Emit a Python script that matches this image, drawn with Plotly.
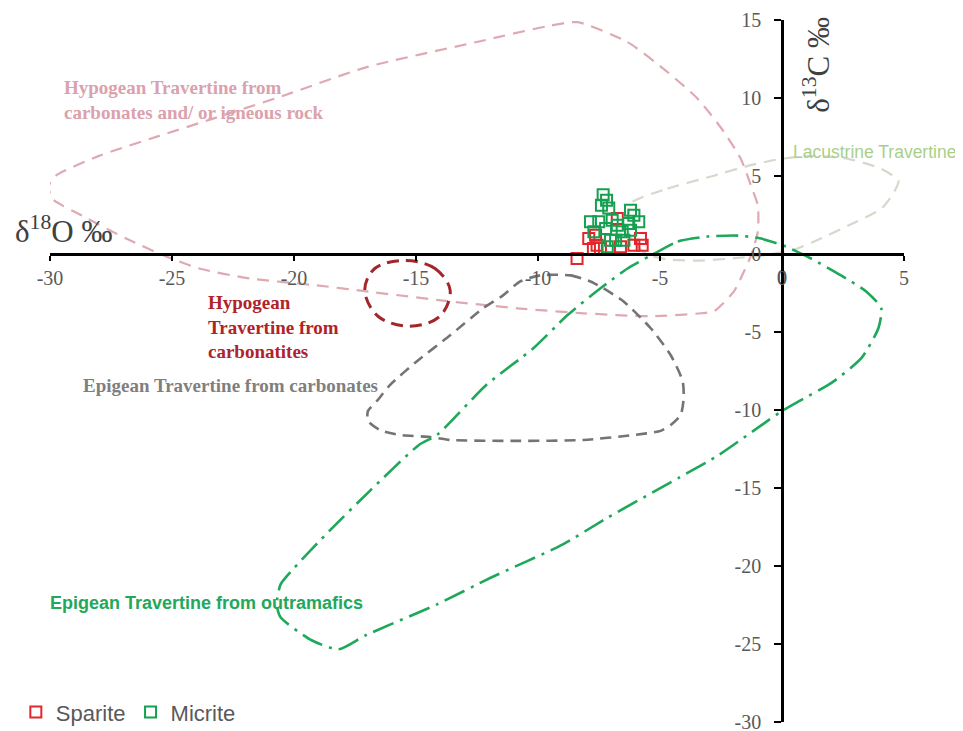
import plotly.graph_objects as go

# ---- data: sample points (delta18O, delta13C) ----
sparite_x = [-8.40, -7.64, -7.58, -7.44, -7.92, -6.75, -6.62, -5.80, -5.73, -6.07, -7.73]
sparite_y = [-0.29, 1.20, 0.56, 0.35, 0.99, 2.27, 0.46, 0.99, 0.56, 0.56, 0.35]

micrite_x = [-7.33, -7.19, -7.40, -7.10, -7.85, -7.51, -7.71, -7.23, -6.96, -6.75,
             -6.55, -6.21, -6.07, -5.87, -6.28, -6.48, -6.82, -7.16, -7.03, -6.21]
micrite_y = [3.80, 3.44, 3.12, 2.95, 2.06, 2.06, 1.42, 1.63, 2.16, 1.84,
             1.42, 2.80, 2.48, 2.06, 1.95, 0.88, 0.88, 0.46, 0.88, 1.52]

# ---- field outlines (vertices) ----
hypo_igneous_x = [-8.38, -6.33, -4.69, -3.45, -2.38, -1.69, -1.27, -0.99, -0.99, -1.27, -1.56, -1.97,
                  -2.79, -3.33, -5.38, -8.14, -10.85, -13.60, -17.02, -19.07, -21.82, -23.88, -25.24,
                  -26.88, -28.69, -29.92, -30.05, -29.76, -27.99, -25.52, -23.35, -20.47, -17.02,
                  -12.37, -9.62, -8.38]
hypo_igneous_y = [14.86, 13.58, 11.66, 9.94, 7.83, 6.10, 4.38, 3.10, 1.44, -0.10, -1.12, -2.40,
                  -3.67, -3.80, -3.99, -3.80, -3.48, -3.04, -2.40, -2.01, -1.57, -0.93, -0.16,
                  0.99, 2.46, 3.55, 4.38, 5.02, 6.29, 7.57, 8.66, 10.13, 11.98,
                  13.64, 14.60, 14.86]

carbonatite_x = [-15.45, -14.22, -13.60, -14.02, -15.25, -16.56, -17.10, -16.69, -15.45]
carbonatite_y = [-0.42, -0.93, -2.33, -3.99, -4.63, -3.99, -2.33, -0.93, -0.42]

epi_carb_x = [-9.91, -8.67, -7.85, -7.32, -6.49, -5.38, -4.56, -4.07, -4.03, -4.15, -4.56, -4.97,
              -6.08, -8.14, -10.85, -13.60, -14.43, -15.66, -16.48, -16.97, -16.97, -16.60,
              -16.07, -14.96, -13.60, -12.25, -11.43, -10.73, -9.91]
epi_carb_y = [-1.37, -1.37, -1.76, -2.20, -3.04, -4.76, -6.49, -8.15, -9.23, -10.32, -10.96, -11.34,
              -11.60, -11.92, -11.98, -11.92, -11.73, -11.60, -11.28, -10.70, -10.06, -9.42,
              -8.40, -6.87, -5.21, -3.48, -2.65, -1.76, -1.37]

ultramafic_x = [-5.38, -4.27, -3.04, -1.81, -0.86, 0.16, 1.19, 2.42, 3.45, 4.07, 3.95, 3.25, 2.01,
                0.78, 0.00, -2.59, -4.23, -7.15, -9.00, -11.92, -14.14, -17.06, -18.17, -19.28,
                -20.55, -20.71, -20.55, -19.98, -18.54, -16.89, -14.88, -14.14, -12.12, -10.19,
                -8.80, -7.44, -6.33, -5.38]
ultramafic_y = [-0.10, 0.80, 1.12, 1.18, 0.99, 0.48, -0.29, -1.37, -2.40, -3.48, -4.76, -6.68, -8.28,
                -9.36, -10.06, -12.88, -14.35, -16.90, -18.63, -20.74, -22.46, -24.44, -25.34, -24.76,
                -23.29, -22.46, -21.18, -20.10, -17.73, -15.18, -12.24, -11.60, -8.40, -6.04,
                -3.93, -2.20, -0.93, -0.10]

lacustrine_x = [-6.21, -4.69, -2.79, -1.40, -0.04, 1.32, 2.71, 4.07, 4.77, 4.60, 4.07, 2.71, 1.32,
                0.37, -0.86, -2.10, -3.33, -4.69, -5.59, -6.29, -6.21]
lacustrine_y = [3.23, 4.19, 5.02, 5.65, 6.10, 6.29, 6.10, 5.46, 4.70, 3.99, 2.91, 1.82, 0.80,
                0.22, -0.10, -0.29, -0.42, -0.35, 0.03, 1.31, 3.23]

x_ticks = [-30, -25, -20, -15, -10, -5, 0, 5]
x_tick_text = ["-30", "-25", "-20", "-15", "-10", "-5", "0", "5"]
y_ticks = [-30, -25, -20, -15, -10, -5, 0, 5, 10, 15]
y_tick_text = ["-30", "-25", "-20", "-15", "-10", "-5", "0", "5", "10", "15"]
x_range = [-30, 5]
y_range = [-30, 15]

FIG_W, FIG_H = 955, 731
M_L, M_R, M_T, M_B = 42, 59, 12, 17
plot_h_px = FIG_H - M_T - M_B

fig = go.Figure()

def outline(x, y, color, width, dash, smooth=0.5):
    fig.add_trace(go.Scatter(x=x, y=y, mode="lines", showlegend=False, hoverinfo="skip",
                             line=dict(color=color, width=width, dash=dash,
                                       shape="spline", smoothing=smooth)))

outline(hypo_igneous_x, hypo_igneous_y, "#dfa9b2", 2.2, "12px,8px", 0.6)
outline(lacustrine_x, lacustrine_y, "#d6d8cc", 2.2, "12px,8px", 0.6)
outline(epi_carb_x, epi_carb_y, "#747474", 2.6, "11px,7px", 0.6)
outline(carbonatite_x, carbonatite_y, "#a3262b", 3, "12px,7px", 1.0)
outline(ultramafic_x, ultramafic_y, "#1ea85a", 2.6, "22px,7px,3px,7px", 0.6)

fig.add_trace(go.Scatter(x=sparite_x, y=sparite_y, mode="markers", name="Sparite",
                         marker=dict(symbol="square-open", size=11, color="#e3262b",
                                     line=dict(width=2, color="#e3262b"))))
fig.add_trace(go.Scatter(x=micrite_x, y=micrite_y, mode="markers", name="Micrite",
                         marker=dict(symbol="square-open", size=11, color="#14a050",
                                     line=dict(width=2, color="#14a050"))))

tick_font = dict(family="Liberation Serif, serif", size=20, color="#595959")

# the x-axis "0" label sits on the y-axis line and plotly drops it; draw it as text,
# 25 px below the x axis (converted to data units through the axis scale)
label_drop = 25 * (y_range[1] - y_range[0]) / plot_h_px
fig.add_trace(go.Scatter(x=[0], y=[0 - label_drop], mode="text",
                         text=[x_tick_text[x_ticks.index(0)]],
                         textposition="middle center", textfont=tick_font, cliponaxis=False,
                         showlegend=False, hoverinfo="skip"))

fig.update_xaxes(range=x_range, tickvals=x_ticks, ticktext=x_tick_text,
                 showgrid=False, zeroline=False,
                 showline=True, linecolor="black", linewidth=2.5,
                 ticks="outside", ticklen=5, tickwidth=2, tickcolor="black",
                 tickfont=tick_font, anchor="free",
                 position=(0 - y_range[0]) / (y_range[1] - y_range[0]))
fig.update_yaxes(range=y_range, tickvals=y_ticks, ticktext=y_tick_text,
                 showgrid=False, zeroline=False,
                 showline=True, linecolor="black", linewidth=2.5,
                 ticks="outside", ticklen=7, tickwidth=2, tickcolor="black",
                 tickfont=tick_font, anchor="free", ticklabelstandoff=9,
                 position=(0 - x_range[0]) / (x_range[1] - x_range[0]))

serif = "Liberation Serif, serif"
ann = [
    dict(x=-29.5, y=9.87, text="<b>Hypogean Travertine from<br>carbonates and/ or igneous rock</b>",
         font=dict(family=serif, size=19, color="#dba1ac")),
    dict(x=-23.6, y=-4.7, text="<b>Hypogean<br>Travertine from<br>carbonatites</b>",
         font=dict(family=serif, size=19, color="#b0232a")),
    dict(x=-28.73, y=-8.4, text="<b>Epigean Travertine from carbonates</b>",
         font=dict(family=serif, size=19, color="#7f7f7f")),
    dict(x=0.37, y=6.55, text="Lacustrine Travertine",
         font=dict(family="Liberation Sans", size=17.5, color="#a9cf8a")),
]
for a in ann:
    fig.add_annotation(xref="x", yref="y", xanchor="left", yanchor="middle", showarrow=False,
                       align="left", **a)

fig.add_annotation(xref="paper", yref="paper", x=-0.002, y=0.1695, xanchor="left", yanchor="middle",
                   text="<b>Epigean Travertine from outramafics</b>", showarrow=False,
                   font=dict(family="Liberation Sans", size=18, color="#22a85a"))
fig.add_annotation(xref="paper", yref="paper", x=-0.0433, y=0.701, xanchor="left", yanchor="middle",
                   text="δ<sup>18</sup>O ‰", showarrow=False,
                   font=dict(family="Liberation Serif", size=31, color="#404040"))
fig.add_annotation(xref="paper", yref="paper", x=0.898, y=0.936, xanchor="center", yanchor="middle",
                   text="δ<sup>13</sup>C ‰", showarrow=False, textangle=-90,
                   font=dict(family="Liberation Serif", size=31, color="#404040"))

# page body adds an 8px offset; the figure is sized so the plot area lands where the reference has it
fig.update_layout(
    width=FIG_W, height=FIG_H,
    margin=dict(l=M_L, r=M_R, t=M_T, b=M_B, autoexpand=False),
    paper_bgcolor="white", plot_bgcolor="white",
    legend=dict(orientation="h", x=-0.04, y=0.014, xanchor="left", yanchor="middle",
                font=dict(family="Liberation Sans", size=22, color="#595959"),
                bgcolor="rgba(0,0,0,0)"),
)

fig.write_html("out.html")
